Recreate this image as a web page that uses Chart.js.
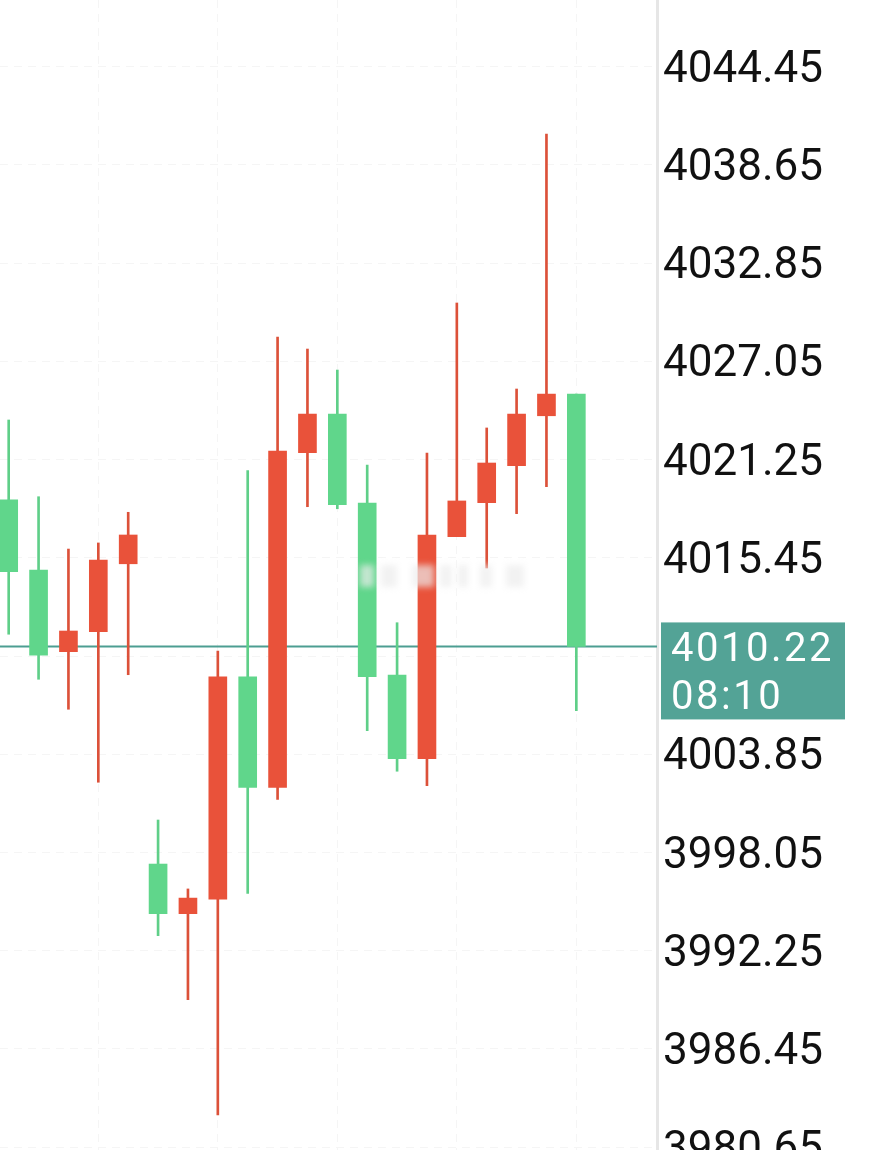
<!DOCTYPE html>
<html><head><meta charset="utf-8">
<script src="https://cdn.jsdelivr.net/npm/chart.js@4.4.0/dist/chart.umd.min.js"></script>
<style>html,body{margin:0;padding:0;background:#fff;overflow:hidden}#wrap{width:880px;height:1150px;position:relative}</style>
</head><body><div id="wrap"><canvas id="c" width="880" height="1150"></canvas></div>
<script>
// ---- data ----
const candleIndex = [0,1,2,3,4,5,6,7,8,9,10,11,12,13,14,15,16,17,18,19];
const opens  = [4018.87,4014.73,4009.91,4011.09,4015.10,3997.37,3994.44,3995.29,4008.43,4001.90,4021.66,4023.94,4018.69,4008.53,4003.59,4016.70,4018.71,4020.89,4023.84,4025.12];
const highs  = [4023.59,4019.06,4015.97,4016.33,4018.14,3999.97,3995.90,4009.95,4020.60,4028.49,4027.78,4026.54,4020.93,4011.62,4021.64,4030.50,4023.12,4025.42,4040.48,4025.12];
const lows   = [4010.94,4008.28,4006.51,4002.20,4008.55,3993.14,3989.36,3982.55,3995.64,4001.19,4018.47,4018.35,4005.24,4002.85,4002.00,4016.70,4014.85,4018.06,4019.65,4006.42];
const closes = [4014.63,4009.71,4011.13,4015.32,4016.80,3994.44,3995.36,4008.43,4001.90,4021.76,4023.94,4018.59,4008.43,4003.59,4016.80,4018.81,4021.05,4023.94,4025.12,4010.22];
const yTickValues = [4044.45,4038.65,4032.85,4027.05,4021.25,4015.45,4009.65,4003.85,3998.05,3992.25,3986.45,3980.65];
const xGridValues = [3,7,11,15,19];
const lastPrice = 4010.22;
const lastTime = '08:10';

const UP = '#e9523a', UP_WICK = '#dc5139';
const DOWN = '#60d68b', DOWN_WICK = '#5fcf88';
const isUp = i => closes[i] >= opens[i];

const pricePlugin = {
  id: 'price',
  beforeDatasetsDraw(chart) {
    const {ctx, chartArea} = chart;
    const y = chart.scales.y.getPixelForValue(lastPrice);
    ctx.save();
    ctx.strokeStyle = '#4c9e92';
    ctx.lineWidth = 2;
    ctx.beginPath();
    ctx.moveTo(chartArea.left, y);
    ctx.lineTo(chartArea.right, y);
    ctx.stroke();
    ctx.restore();
  },
  afterDatasetsDraw(chart) {
    // faint blurred watermark
    const {ctx} = chart;
    ctx.save();
    ctx.filter = 'blur(3px)';
    ctx.fillStyle = 'rgba(236,236,236,0.7)';
    const blocks = [[360,14],[381,16],[412,22],[440,12],[458,10],[480,12],[506,18]];
    blocks.forEach(([x,w]) => ctx.fillRect(x, 565, w, 22));
    ctx.restore();
  },
  afterDraw(chart) {
    const {ctx, chartArea} = chart;
    const y = chart.scales.y.getPixelForValue(lastPrice);
    const bx = chartArea.right + 4;
    ctx.save();
    ctx.fillStyle = '#53a396';
    ctx.fillRect(bx, y - 24, 184, 97);
    ctx.fillStyle = '#ffffff';
    ctx.font = '400 40px Roboto';
    ctx.letterSpacing = '2.5px';
    ctx.textAlign = 'left';
    ctx.textBaseline = 'alphabetic';
    ctx.fillText(lastPrice.toFixed(2), bx + 10, y + 15);
    ctx.fillText(lastTime, bx + 10, y + 63);
    ctx.restore();
  }
};

new Chart(document.getElementById('c'), {
  type: 'bar',
  data: {
    datasets: [
      {
        label: 'wick',
        data: candleIndex.map(i => ({x: i, y: [lows[i], highs[i]]})),
        backgroundColor: candleIndex.map(i => isUp(i) ? UP_WICK : DOWN_WICK),
        barThickness: 2,
        grouped: false,
        borderWidth: 0,
        order: 2
      },
      {
        label: 'body',
        data: candleIndex.map(i => ({x: i, y: [opens[i], closes[i]]})),
        backgroundColor: candleIndex.map(i => isUp(i) ? UP : DOWN),
        barThickness: 18,
        grouped: false,
        borderWidth: 0,
        order: 1
      }
    ]
  },
  options: {
    responsive: false,
    animation: false,
    devicePixelRatio: 1,
    layout: {padding: 0},
    plugins: {legend: {display: false}, tooltip: {enabled: false}},
    scales: {
      x: {
        type: 'linear',
        offset: false,
        min: -0.291,
        max: 21.70,
        afterBuildTicks: s => { s.ticks = xGridValues.map(v => ({value: v})); },
        afterFit: s => { s.height = 0; s.paddingLeft = 0; s.paddingRight = 0; },
        ticks: {display: false},
        grid: {offset: false, color: 'rgba(0,0,0,0.04)', lineWidth: 1, drawTicks: false},
        border: {display: false, dash: [8, 6]}
      },
      y: {
        position: 'right',
        min: 3980.485,
        max: 4048.39,
        afterBuildTicks: s => { s.ticks = yTickValues.map(v => ({value: v})); },
        afterFit: s => { s.width = 223; s.paddingTop = 0; s.paddingBottom = 0; },
        ticks: {
          autoSkip: false,
          padding: 6,
          labelOffset: 4,
          color: '#111111',
          font: {family: 'Roboto', size: 44},
          callback: v => Number(v).toFixed(2)
        },
        grid: {color: 'rgba(0,0,0,0.04)', lineWidth: 1, drawTicks: false},
        border: {display: true, color: '#e6e6e6', width: 3, dash: [8, 6]}
      }
    }
  },
  plugins: [pricePlugin]
});
</script>
</body></html>
